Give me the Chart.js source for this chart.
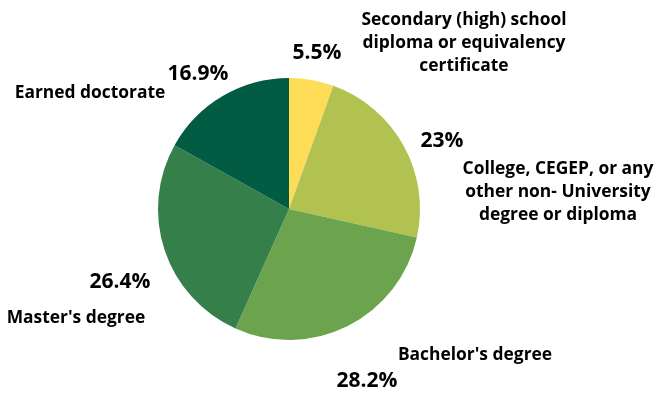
<!DOCTYPE html>
<html>
<head>
<meta charset="utf-8">
<script src="https://cdn.jsdelivr.net/npm/chart.js@4/dist/chart.umd.min.js"></script>
<style>
  html, body { margin: 0; padding: 0; background: #fff; }
  #wrap { width: 657px; height: 393px; position: relative; }
</style>
</head>
<body>
<div id="wrap"><canvas id="pie"></canvas></div>
<script>
// Highest level of education, share of respondents (%)
const categories = [
  "Secondary (high) school\ndiploma or equivalency\ncertificate",
  "College, CEGEP, or any\nother non- University\ndegree or diploma",
  "Bachelor's degree",
  "Master's degree",
  "Earned doctorate"
];
const shares = [5.5, 23, 28.2, 26.4, 16.9];
const sliceColors = ["#FFDC58", "#B2C251", "#6BA44C", "#347F4A", "#025B43"];

// Label placement, as offsets (px) from the pie centre
const pctOffsets = [[28, -156], [153, -68], [78, 172], [-169, 73], [-91, -135]];
const nameOffsets = [[175, -166], [269, -17], [186, 146], [-213, 109], [-199, -116]];

const PCT_FONT = "bold 21px 'Open Sans'";
const NAME_FONT = "bold 17.4px 'Open Sans'";
const NAME_LINE = 23;

const sliceLabels = {
  id: 'sliceLabels',
  afterDatasetsDraw(chart) {
    const ctx = chart.ctx;
    const meta = chart.getDatasetMeta(0);
    const arc0 = meta.data[0];
    const cx = arc0.x, cy = arc0.y;
    ctx.save();
    ctx.fillStyle = '#000';
    ctx.textAlign = 'center';
    ctx.textBaseline = 'middle';
    shares.forEach((v, i) => {
      ctx.font = PCT_FONT;
      ctx.fillText(v + '%', cx + pctOffsets[i][0], cy + pctOffsets[i][1]);
      ctx.font = NAME_FONT;
      const lines = categories[i].split('\n');
      const top = cy + nameOffsets[i][1] - (lines.length - 1) * NAME_LINE / 2;
      lines.forEach((ln, k) => {
        ctx.fillText(ln, cx + nameOffsets[i][0], top + k * NAME_LINE);
      });
    });
    ctx.restore();
  }
};

new Chart(document.getElementById('pie'), {
  type: 'pie',
  data: {
    labels: categories,
    datasets: [{
      data: shares,
      backgroundColor: sliceColors,
      borderWidth: 0
    }]
  },
  options: {
    responsive: true,
    maintainAspectRatio: false,
    animation: false,
    layout: { padding: { top: 78, bottom: 53, left: 158, right: 237 } },
    plugins: {
      legend: { display: false },
      tooltip: { enabled: false }
    }
  },
  plugins: [sliceLabels]
});
</script>
</body>
</html>
